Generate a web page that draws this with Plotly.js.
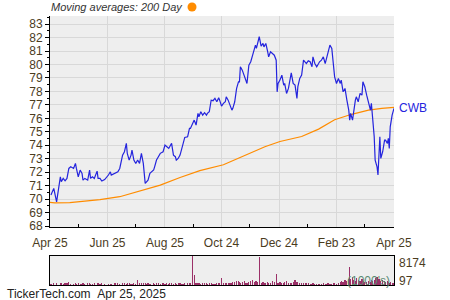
<!DOCTYPE html>
<html>
<head>
<meta charset="utf-8">
<script src="https://cdn.plot.ly/plotly-3.0.1.min.js"></script>
<style>html,body{margin:0;padding:0;background:#fff;}#chart{width:450px;height:300px;}</style>
</head>
<body>
<div id="chart"></div>
<script>
var priceDates = [
"2024-04-26","2024-04-29","2024-05-02","2024-05-06","2024-05-07","2024-05-09","2024-05-11","2024-05-13","2024-05-15","2024-05-17",
"2024-05-20","2024-05-22","2024-05-23","2024-05-25","2024-05-27","2024-05-29","2024-05-30","2024-06-01","2024-06-04","2024-06-06",
"2024-06-07","2024-06-09","2024-06-11","2024-06-14","2024-06-15","2024-06-17","2024-06-19","2024-06-22","2024-06-26","2024-06-28",
"2024-06-29","2024-07-03","2024-07-06","2024-07-08","2024-07-11","2024-07-13","2024-07-15","2024-07-16","2024-07-18","2024-07-20",
"2024-07-21","2024-07-23","2024-07-25","2024-07-27","2024-07-29","2024-07-31","2024-08-02","2024-08-04","2024-08-06","2024-08-07",
"2024-08-09","2024-08-13","2024-08-14","2024-08-16","2024-08-18","2024-08-20","2024-08-23","2024-08-25","2024-08-27","2024-08-29",
"2024-08-30","2024-09-01","2024-09-03","2024-09-05","2024-09-06","2024-09-08","2024-09-10","2024-09-12","2024-09-13","2024-09-15",
"2024-09-18","2024-09-20","2024-09-21","2024-09-23","2024-09-25","2024-09-27","2024-09-29","2024-09-30","2024-10-02","2024-10-04",
"2024-10-06","2024-10-08","2024-10-09","2024-10-11","2024-10-13","2024-10-15","2024-10-17","2024-10-19","2024-10-21","2024-10-22",
"2024-10-24","2024-10-26","2024-10-28","2024-10-29","2024-10-31","2024-11-02","2024-11-04","2024-11-05","2024-11-07","2024-11-09",
"2024-11-11","2024-11-12","2024-11-13","2024-11-15","2024-11-17","2024-11-19","2024-11-20","2024-11-22","2024-11-24","2024-11-26",
"2024-11-28","2024-11-29","2024-11-30","2024-12-01","2024-12-03","2024-12-05","2024-12-07","2024-12-08","2024-12-10","2024-12-12",
"2024-12-13","2024-12-15","2024-12-17","2024-12-19","2024-12-21","2024-12-22","2024-12-23","2024-12-25","2024-12-27","2024-12-29",
"2024-12-30","2025-01-01","2025-01-03","2025-01-05","2025-01-06","2025-01-08","2025-01-10","2025-01-12","2025-01-13","2025-01-15",
"2025-01-17","2025-01-19","2025-01-21","2025-01-22","2025-01-24","2025-01-26","2025-01-28","2025-01-29","2025-01-31","2025-02-02",
"2025-02-04","2025-02-05","2025-02-07","2025-02-09","2025-02-11","2025-02-13","2025-02-14","2025-02-16","2025-02-18","2025-02-20",
"2025-02-21","2025-02-23","2025-02-25","2025-02-27","2025-02-28","2025-03-02","2025-03-04","2025-03-06","2025-03-08","2025-03-09",
"2025-03-10","2025-03-12","2025-03-13","2025-03-15","2025-03-16","2025-03-18","2025-03-20","2025-03-22","2025-03-23","2025-03-25",
"2025-03-27","2025-03-29","2025-03-31","2025-04-01","2025-04-02","2025-04-04","2025-04-05","2025-04-07","2025-04-08","2025-04-09",
"2025-04-10","2025-04-11","2025-04-13","2025-04-15","2025-04-16","2025-04-18","2025-04-19","2025-04-20","2025-04-21","2025-04-23",
"2025-04-24","2025-04-25"];

var priceValues = [
70.30,70.80,69.80,71.66,71.29,71.54,71.36,71.54,72.28,72.40,
72.28,72.65,72.28,71.66,72.16,71.91,71.41,71.54,71.41,72.16,
71.54,71.66,71.54,72.08,71.54,71.54,71.34,71.45,71.79,72.03,
71.79,71.91,72.03,72.28,73.27,73.52,74.14,73.40,72.90,73.27,
73.64,72.90,72.65,72.90,72.65,73.40,72.65,71.17,71.29,71.41,
71.91,72.16,72.40,72.90,73.15,73.40,73.52,74.01,73.89,73.77,
73.89,74.14,73.27,73.15,72.90,73.02,73.27,73.77,74.14,74.58,
74.63,75.25,75.25,75.62,75.87,75.50,76.37,76.12,76.49,76.24,
76.42,76.24,76.37,76.49,77.35,77.31,77.48,77.23,77.53,77.35,
76.91,77.11,77.23,77.60,77.35,76.98,76.61,76.74,77.23,78.22,
78.71,78.71,79.83,79.58,79.21,78.71,78.59,79.95,80.20,80.69,
81.19,81.44,81.19,81.44,82.06,81.37,81.56,81.31,81.56,80.94,
80.57,80.94,80.82,80.69,80.32,77.97,78.59,78.84,79.21,78.47,
78.59,77.85,78.22,78.84,79.38,78.59,78.47,77.48,78.35,78.96,
79.21,80.32,80.20,80.07,80.27,80.20,79.83,80.57,80.07,79.83,
80.07,80.20,80.32,80.57,80.07,80.69,81.07,81.44,81.19,80.07,
79.08,78.59,78.96,78.59,78.84,77.97,78.22,77.35,76.61,75.87,
76.37,75.87,76.49,77.35,77.60,77.23,77.85,77.72,78.72,78.35,
77.72,77.23,76.61,77.11,76.37,74.63,72.90,72.40,71.79,73.15,
74.63,73.02,73.52,74.38,74.38,74.14,74.51,73.77,75.37,76.24,
76.61,76.74];

var volumeValues = [
400,650,700,500,450,380,600,550,850,420,
360,480,300,520,410,350,600,280,450,500,
380,420,560,300,450,330,700,400,250,380,
310,450,500,380,600,430,350,480,520,400,
300,450,380,1340,650,700,480,560,420,500,
380,450,300,520,460,390,600,350,480,410,
520,450,380,600,330,480,550,420,380,500,
600,450,700,8174,2760,500,450,600,380,520,
650,480,400,550,600,420,380,700,500,650,
2000,600,450,520,700,480,550,900,750,1200,
1000,800,650,900,1100,700,600,750,1000,1300,
900,1200,1000,800,8000,700,900,650,550,800,
700,600,1000,850,3200,700,600,850,500,650,
900,1100,700,600,500,800,1300,900,600,450,
500,700,600,450,550,400,300,450,380,320,
400,350,300,450,380,300,500,420,350,480,
600,400,700,900,1100,800,1300,1000,1600,5130,
1800,2200,1500,1200,2000,1400,1000,1700,1200,900,
800,1100,900,1300,1000,1500,1900,2200,1700,1300,
1600,1200,1400,1000,900,1100,800,700,900,600,
700,500];

var maDates = ["2024-04-25","2024-04-30","2024-05-16","2024-05-27","2024-06-17","2024-07-08","2024-07-29","2024-08-20","2024-09-10","2024-10-01",
"2024-10-26","2024-11-18","2024-12-09","2024-12-25","2025-01-17","2025-02-04","2025-02-21","2025-03-11","2025-03-29","2025-04-12","2025-04-25"];
var maValues = [69.76,69.72,69.74,69.80,69.97,70.18,70.62,71.04,71.61,72.12,
72.55,73.22,73.89,74.28,74.65,75.20,75.90,76.30,76.61,76.74,76.81];

var xTickVals = ["2024-04-25","2024-06-25","2024-08-25","2024-10-24","2024-12-24","2025-02-23","2025-04-25"];
var xTickText = ["Apr 25","Jun 25","Aug 25","Oct 24","Dec 24","Feb 23","Apr 25"];
var xMinorVals = ["2024-05-25","2024-07-25","2024-09-24","2024-11-23","2025-01-23","2025-03-25"];
var volMax = 8174, volMin = 97;
var symbol = "CWB";

var tickColor = "#4b3c1e";
var fontFam = "Liberation Sans, Arial, sans-serif";

var traces = [
  {x: maDates, y: maValues, type: "scatter", mode: "lines", line: {color: "#ff8c00", width: 1.2}, xaxis: "x", yaxis: "y", hoverinfo: "skip"},
  {x: priceDates, y: priceValues, type: "scatter", mode: "lines", line: {color: "#2424dd", width: 1.2}, xaxis: "x", yaxis: "y", hoverinfo: "skip"},
  {x: priceDates, y: volumeValues, type: "bar", marker: {color: "#9b3068", line: {width: 0}}, width: 1.3*86400000, xaxis: "x2", yaxis: "y2", hoverinfo: "skip"}
];

var layout = {
  width: 450, height: 300,
  margin: {l: 50, r: 56, t: 16, b: 15},
  paper_bgcolor: "#ffffff", plot_bgcolor: "#eeeeee",
  showlegend: false,
  font: {family: fontFam, size: 12, color: tickColor},
  xaxis: {
    type: "date", range: ["2024-04-25", "2025-04-25"], domain: [0, 1], anchor: "y",
    tickmode: "array", tickvals: xTickVals, ticktext: xTickText,
    ticks: "", showgrid: true, gridcolor: "#d8d8d8", gridwidth: 1,
    showline: true, linecolor: "#000", linewidth: 1, ticklabelstandoff: 5,
    tickfont: {size: 12, color: tickColor}, zeroline: false,
    minor: {tickmode: "array", tickvals: xMinorVals, ticks: "inside", ticklen: 3, tickcolor: "#000", showgrid: false}
  },
  yaxis: {
    range: [67.93, 83.6], domain: [0.2156, 1], anchor: "x",
    dtick: 1, tick0: 68, ticks: "outside", ticklen: 4, tickcolor: "#000",
    showgrid: true, gridcolor: "#d8d8d8", gridwidth: 1,
    showline: true, linecolor: "#000", linewidth: 1, zeroline: false,
    tickfont: {size: 12, color: tickColor},
    minor: {dtick: 0.5, ticks: "outside", ticklen: 2, tickcolor: "#000", showgrid: false}
  },
  xaxis2: {
    type: "date", range: ["2024-04-25", "2025-04-25"], domain: [0, 1], anchor: "y2",
    showticklabels: false, ticks: "", showgrid: false, zeroline: false,
    showline: true, mirror: true, linecolor: "#000", linewidth: 1
  },
  yaxis2: {
    range: [0, volMax], domain: [0, 0.1078], anchor: "x2",
    showticklabels: false, ticks: "", showgrid: false, zeroline: false,
    showline: true, mirror: true, linecolor: "#000", linewidth: 1
  },
  bargap: 0,
  shapes: [
    {type: "circle", xref: "paper", yref: "paper", x0: 0.3997, x1: 0.4259, y0: 1.0167, y1: 1.0502, fillcolor: "#ff8c00", line: {width: 0}}
  ],
  annotations: [
    {xref: "paper", yref: "paper", x: -0.003, y: 1.0316, xanchor: "left", yanchor: "middle", showarrow: false,
     text: "<i>Moving averages: 200 Day</i>", font: {size: 11, color: "#333333", family: fontFam}},
    {xref: "paper", yref: "paper", x: 1.0096, y: 0.658, xanchor: "left", yanchor: "middle", showarrow: false,
     text: symbol, font: {size: 12, color: "#2424dd", family: fontFam}},
    {xref: "paper", yref: "paper", x: 1.0087, y: 0.0818, xanchor: "left", yanchor: "middle", showarrow: false,
     text: String(volMax), font: {size: 12, color: tickColor, family: fontFam}},
    {xref: "paper", yref: "paper", x: 1.0087, y: 0.0149, xanchor: "left", yanchor: "middle", showarrow: false,
     text: String(volMin), font: {size: 12, color: tickColor, family: fontFam}},
    {xref: "paper", yref: "paper", x: 0.9942, y: 0.0149, xanchor: "right", yanchor: "middle", showarrow: false,
     text: "(1000's)", font: {size: 12, color: "#5b8a72", family: fontFam}},
    {xref: "paper", yref: "paper", x: -0.1308, y: -0.0335, xanchor: "left", yanchor: "middle", showarrow: false,
     text: "TickerTech.com&nbsp;&nbsp;Apr 25, 2025", font: {size: 12, color: "#222222", family: fontFam}}
  ]
};

Plotly.newPlot("chart", traces, layout, {staticPlot: true, displayModeBar: false});
</script>
</body>
</html>
